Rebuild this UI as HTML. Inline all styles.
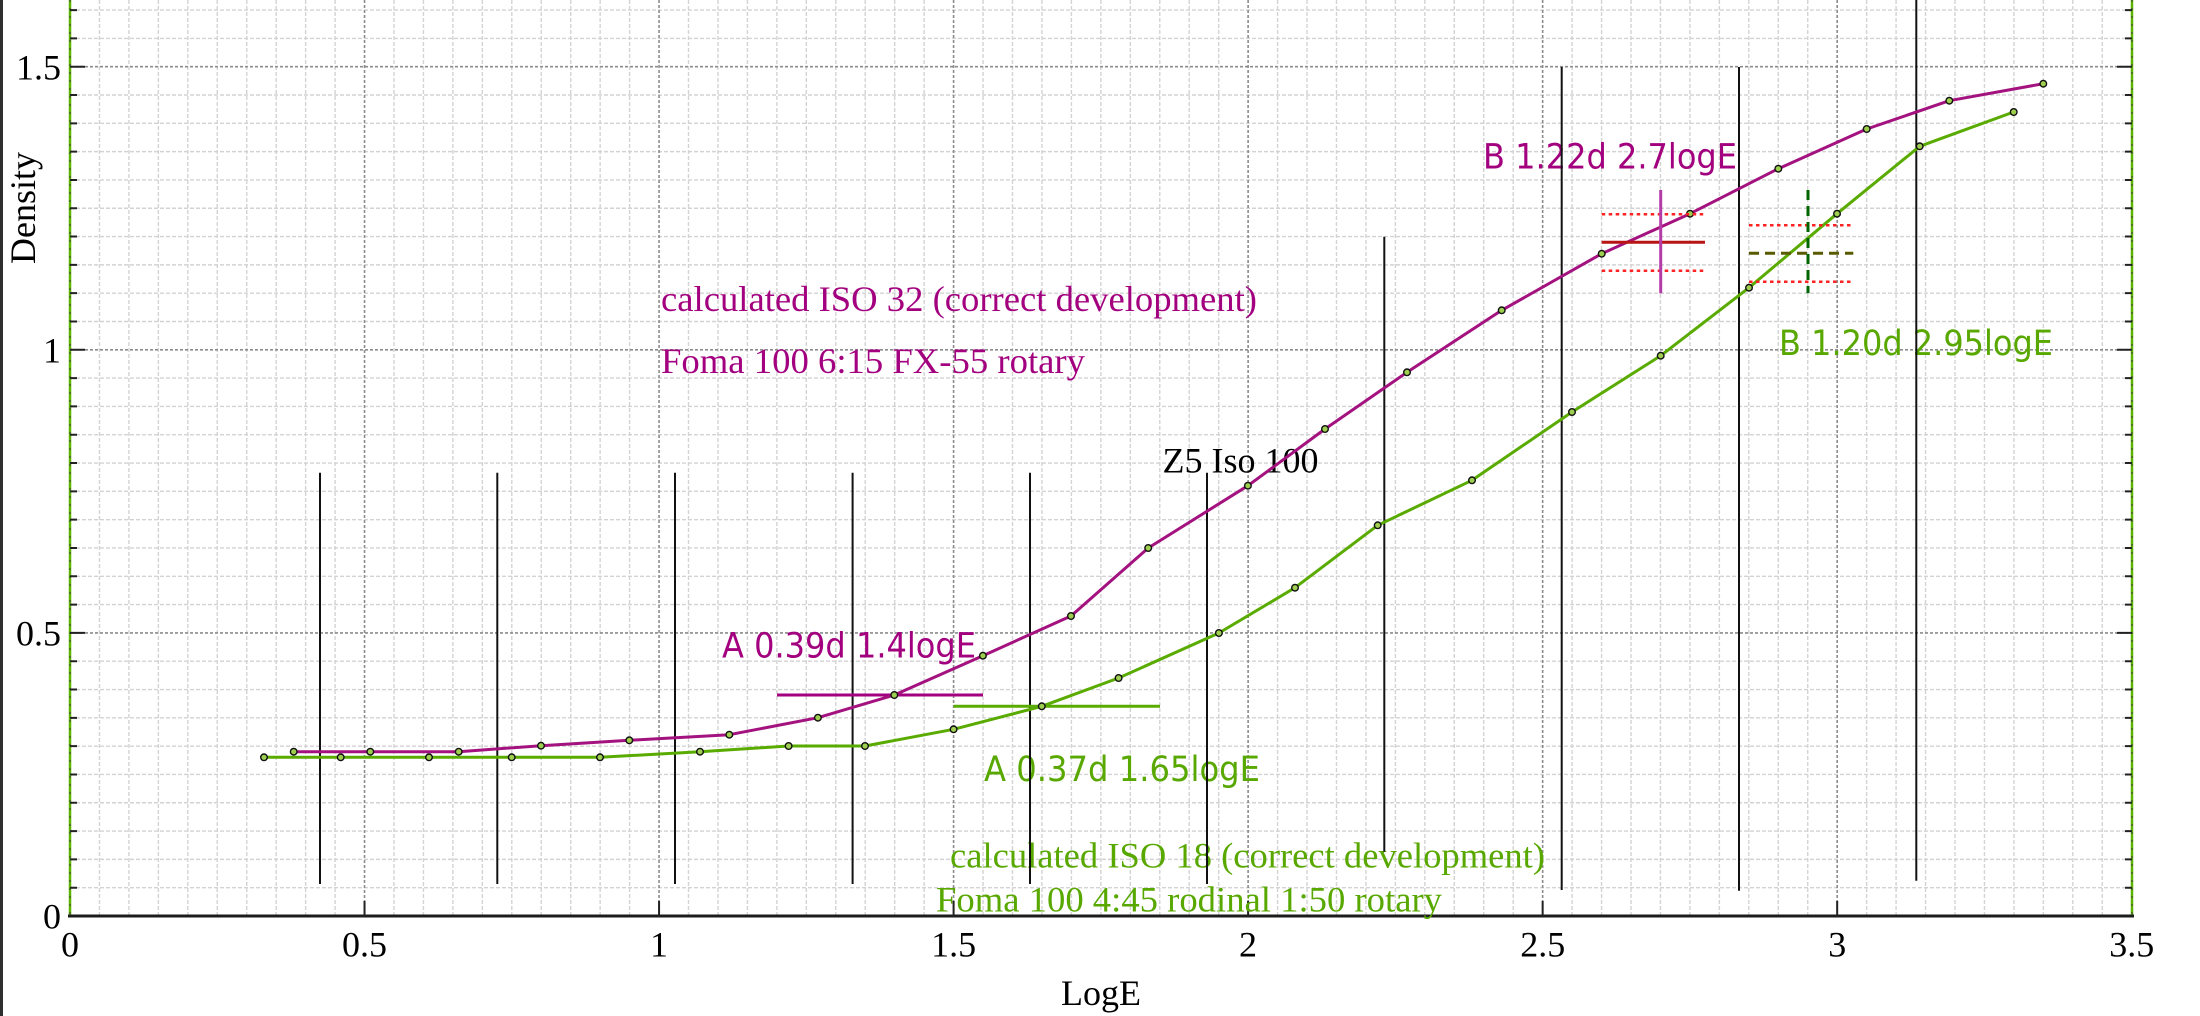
<!DOCTYPE html>
<html>
<head>
<meta charset="utf-8">
<style>
html,body{margin:0;padding:0;background:#fff;}
svg{display:block;}
.serif{font-family:"Liberation Serif","Times New Roman",serif;font-size:36px;}
.sans{font-family:"DejaVu Sans","Liberation Sans",Arial,sans-serif;font-size:35px;}
</style>
</head>
<body>
<svg width="2200" height="1016" viewBox="0 0 2200 1016" xmlns="http://www.w3.org/2000/svg">
<rect x="0" y="0" width="2200" height="1016" fill="#fff"/>
<!-- left dark edge -->
<rect x="0" y="0" width="3" height="1016" fill="#2e2e2e"/>

<!-- minor vertical grid -->
<path fill="none" stroke="#d3d3d3" stroke-width="1.4" stroke-dasharray="4 2"
d="M99.45 0V916M128.91 0V916M158.36 0V916M187.81 0V916M217.27 0V916M246.72 0V916M276.17 0V916M305.62 0V916M335.08 0V916
M393.98 0V916M423.44 0V916M452.89 0V916M482.34 0V916M511.8 0V916M541.25 0V916M570.7 0V916M600.15 0V916M629.61 0V916
M688.51 0V916M717.97 0V916M747.42 0V916M776.87 0V916M806.33 0V916M835.78 0V916M865.23 0V916M894.68 0V916M924.14 0V916
M983.04 0V916M1012.5 0V916M1041.95 0V916M1071.4 0V916M1100.86 0V916M1130.31 0V916M1159.76 0V916M1189.21 0V916M1218.67 0V916
M1277.57 0V916M1307.03 0V916M1336.48 0V916M1365.93 0V916M1395.39 0V916M1424.84 0V916M1454.29 0V916M1483.74 0V916M1513.2 0V916
M1572.1 0V916M1601.56 0V916M1631.01 0V916M1660.46 0V916M1689.92 0V916M1719.37 0V916M1748.82 0V916M1778.27 0V916M1807.73 0V916
M1866.63 0V916M1896.09 0V916M1925.54 0V916M1954.99 0V916M1984.45 0V916M2013.9 0V916M2043.35 0V916M2072.8 0V916M2102.26 0V916"/>
<!-- minor horizontal grid -->
<path fill="none" stroke="#d3d3d3" stroke-width="1.4" stroke-dasharray="4 2"
d="M70 887.69H2132M70 859.38H2132M70 831.07H2132M70 802.76H2132M70 774.45H2132M70 746.14H2132M70 717.83H2132M70 689.52H2132M70 661.21H2132
M70 604.59H2132M70 576.28H2132M70 547.97H2132M70 519.66H2132M70 491.35H2132M70 463.04H2132M70 434.73H2132M70 406.42H2132M70 378.11H2132
M70 321.49H2132M70 293.18H2132M70 264.87H2132M70 236.56H2132M70 208.25H2132M70 179.94H2132M70 151.63H2132M70 123.32H2132M70 95.01H2132
M70 38.39H2132M70 10.08H2132"/>
<!-- major grid -->
<path fill="none" stroke="#8c8c8c" stroke-width="1.6" stroke-dasharray="3 2"
d="M364.53 0V916M659.06 0V916M953.59 0V916M1248.12 0V916M1542.65 0V916M1837.18 0V916
M70 632.9H2132M70 349.8H2132M70 66.7H2132"/>

<!-- axes -->
<line x1="70" y1="0" x2="70" y2="916" stroke="#5cb400" stroke-width="2.5"/>
<line x1="70" y1="0" x2="70" y2="916" stroke="#3a3a3a" stroke-width="1" stroke-dasharray="2 6"/>
<line x1="2132" y1="0" x2="2132" y2="916" stroke="#5cb400" stroke-width="2.5"/>
<line x1="2132" y1="0" x2="2132" y2="916" stroke="#3a3a3a" stroke-width="1" stroke-dasharray="2 6"/>
<line x1="68" y1="916" x2="2134" y2="916" stroke="#1c1c1c" stroke-width="3"/>
<!-- ticks -->
<path fill="none" stroke="#222" stroke-width="2"
d="M70 887.69h7M70 859.38h7M70 831.07h7M70 802.76h7M70 774.45h7M70 746.14h7M70 717.83h7M70 689.52h7M70 661.21h7
M70 604.59h7M70 576.28h7M70 547.97h7M70 519.66h7M70 491.35h7M70 463.04h7M70 434.73h7M70 406.42h7M70 378.11h7
M70 321.49h7M70 293.18h7M70 264.87h7M70 236.56h7M70 208.25h7M70 179.94h7M70 151.63h7M70 123.32h7M70 95.01h7
M70 38.39h7M70 10.08h7M70 632.9h15M70 349.8h15M70 66.7h15
M2132 887.69h-7M2132 859.38h-7M2132 831.07h-7M2132 802.76h-7M2132 774.45h-7M2132 746.14h-7M2132 717.83h-7M2132 689.52h-7M2132 661.21h-7
M2132 604.59h-7M2132 576.28h-7M2132 547.97h-7M2132 519.66h-7M2132 491.35h-7M2132 463.04h-7M2132 434.73h-7M2132 406.42h-7M2132 378.11h-7
M2132 321.49h-7M2132 293.18h-7M2132 264.87h-7M2132 236.56h-7M2132 208.25h-7M2132 179.94h-7M2132 151.63h-7M2132 123.32h-7M2132 95.01h-7
M2132 38.39h-7M2132 10.08h-7M2132 632.9h-15M2132 349.8h-15M2132 66.7h-15
M364.53 916v-15M659.06 916v-15M953.59 916v-15M1248.12 916v-15M1542.65 916v-15M1837.18 916v-15"/>

<!-- axis labels -->
<g class="serif" fill="#000">
<text x="61" y="79.3" text-anchor="end">1.5</text>
<text x="61" y="362.3" text-anchor="end">1</text>
<text x="61" y="645.4" text-anchor="end">0.5</text>
<text x="61" y="928.5" text-anchor="end">0</text>
<text x="70" y="956.7" text-anchor="middle">0</text>
<text x="364.5" y="956.7" text-anchor="middle">0.5</text>
<text x="659" y="956.7" text-anchor="middle">1</text>
<text x="953.6" y="956.7" text-anchor="middle">1.5</text>
<text x="1248" y="956.7" text-anchor="middle">2</text>
<text x="1542.7" y="956.7" text-anchor="middle">2.5</text>
<text x="1837.2" y="956.7" text-anchor="middle">3</text>
<text x="2131.7" y="956.7" text-anchor="middle">3.5</text>
<text x="1101" y="1005" text-anchor="middle">LogE</text>
<text transform="translate(35,208) rotate(-90)" text-anchor="middle">Density</text>
</g>

<!-- annotation text -->
<g class="serif">
<text x="661" y="311" fill="#a3007f" textLength="596" lengthAdjust="spacingAndGlyphs">calculated ISO 32 (correct development)</text>
<text x="661" y="373" fill="#a3007f" textLength="424" lengthAdjust="spacingAndGlyphs">Foma 100 6:15 FX-55 rotary</text>
<text x="1162.5" y="472.5" fill="#000">Z5 Iso 100</text>
<text x="950" y="867.7" fill="#58a800" textLength="595" lengthAdjust="spacingAndGlyphs">calculated ISO 18 (correct development)</text>
<text x="936" y="911.7" fill="#58a800" textLength="506" lengthAdjust="spacingAndGlyphs">Foma 100 4:45 rodinal 1:50 rotary</text>
</g>
<g class="sans">
<text x="1483" y="168.3" fill="#a3007f" textLength="254" lengthAdjust="spacingAndGlyphs">B 1.22d 2.7logE</text>
<text x="722" y="657.7" fill="#a3007f" textLength="254" lengthAdjust="spacingAndGlyphs">A 0.39d 1.4logE</text>
<text x="984" y="781" fill="#58a800" textLength="276" lengthAdjust="spacingAndGlyphs">A 0.37d 1.65logE</text>
<text x="1779" y="355" fill="#58a800" textLength="274" lengthAdjust="spacingAndGlyphs">B 1.20d 2.95logE</text>
</g>

<!-- zone vertical lines -->
<path fill="none" stroke="#111" stroke-width="2"
d="M320 472.7V884M497.3 472.7V884M675 472.7V884M852.6 472.7V884M1030 472.7V884M1207 472.7V884
M1384.3 236.7V851.7M1561.7 67V890M1739 67V890.7M1916.3 0V880.7"/>

<!-- A lines -->
<line x1="777" y1="695" x2="983" y2="695" stroke="#a3007f" stroke-width="3"/>
<line x1="953.6" y1="706.3" x2="1160" y2="706.3" stroke="#5aab00" stroke-width="3"/>

<!-- curves -->
<polyline fill="none" stroke="#5aab00" stroke-width="3" stroke-linejoin="round"
points="264,757.3 340.7,757.3 429,757.3 511.7,757.3 600,757.3 700,751.7 788.6,746 865,746 953.6,729.3 1041.8,706.3 1118.6,678 1218.9,633 1295,587.7 1377.7,525.3 1472,480.3 1572,412 1660.7,355.7 1749,287.7 1837,213.7 1919.7,146.3 2013.7,112"/>
<polyline fill="none" stroke="#a3127f" stroke-width="3" stroke-linejoin="round"
points="293.7,751.7 370.3,751.7 458.7,751.7 541,745.7 629.3,740.3 729.3,734.7 817.9,717.7 894.3,695 982.9,655.7 1071,616 1148.2,548 1247.9,485.7 1325,429 1407,372.3 1501.7,310.3 1601.7,253.7 1690,213.7 1778.3,168.7 1866.7,129 1949.3,100.7 2043.3,83.7"/>

<!-- markers -->
<g fill="#9fcf50" stroke="#111" stroke-width="1.4">
<circle cx="264" cy="757.3" r="3.3"/><circle cx="340.7" cy="757.3" r="3.3"/><circle cx="429" cy="757.3" r="3.3"/><circle cx="511.7" cy="757.3" r="3.3"/><circle cx="600" cy="757.3" r="3.3"/><circle cx="700" cy="751.7" r="3.3"/><circle cx="788.6" cy="746" r="3.3"/><circle cx="865" cy="746" r="3.3"/><circle cx="953.6" cy="729.3" r="3.3"/><circle cx="1041.8" cy="706.3" r="3.3"/><circle cx="1118.6" cy="678" r="3.3"/><circle cx="1218.9" cy="633" r="3.3"/><circle cx="1295" cy="587.7" r="3.3"/><circle cx="1377.7" cy="525.3" r="3.3"/><circle cx="1472" cy="480.3" r="3.3"/><circle cx="1572" cy="412" r="3.3"/><circle cx="1660.7" cy="355.7" r="3.3"/><circle cx="1749" cy="287.7" r="3.3"/><circle cx="1837" cy="213.7" r="3.3"/><circle cx="1919.7" cy="146.3" r="3.3"/><circle cx="2013.7" cy="112" r="3.3"/>
<circle cx="293.7" cy="751.7" r="3.3"/><circle cx="370.3" cy="751.7" r="3.3"/><circle cx="458.7" cy="751.7" r="3.3"/><circle cx="541" cy="745.7" r="3.3"/><circle cx="629.3" cy="740.3" r="3.3"/><circle cx="729.3" cy="734.7" r="3.3"/><circle cx="817.9" cy="717.7" r="3.3"/><circle cx="894.3" cy="695" r="3.3"/><circle cx="982.9" cy="655.7" r="3.3"/><circle cx="1071" cy="616" r="3.3"/><circle cx="1148.2" cy="548" r="3.3"/><circle cx="1247.9" cy="485.7" r="3.3"/><circle cx="1325" cy="429" r="3.3"/><circle cx="1407" cy="372.3" r="3.3"/><circle cx="1501.7" cy="310.3" r="3.3"/><circle cx="1601.7" cy="253.7" r="3.3"/><circle cx="1690" cy="213.7" r="3.3"/><circle cx="1778.3" cy="168.7" r="3.3"/><circle cx="1866.7" cy="129" r="3.3"/><circle cx="1949.3" cy="100.7" r="3.3"/><circle cx="2043.3" cy="83.7" r="3.3"/>
</g>

<!-- B crosshair magenta -->
<path fill="none" stroke="#ff2222" stroke-width="2.5" stroke-dasharray="3.5 3.5"
d="M1601.7 214.3H1705M1601.7 270.7H1705"/>
<line x1="1601.7" y1="242.3" x2="1705" y2="242.3" stroke="#b81414" stroke-width="3"/>
<line x1="1660.7" y1="190" x2="1660.7" y2="293.3" stroke="#b53ca8" stroke-width="3"/>

<!-- B crosshair green -->
<path fill="none" stroke="#ff2222" stroke-width="2.5" stroke-dasharray="3.5 3.5"
d="M1749 225.3H1853.3M1749 281.7H1853.3"/>
<line x1="1749" y1="253.3" x2="1853.3" y2="253.3" stroke="#5a5a00" stroke-width="3" stroke-dasharray="10 6"/>
<line x1="1808" y1="190" x2="1808" y2="293.3" stroke="#006400" stroke-width="3" stroke-dasharray="10 6"/>
</svg>
</body>
</html>
